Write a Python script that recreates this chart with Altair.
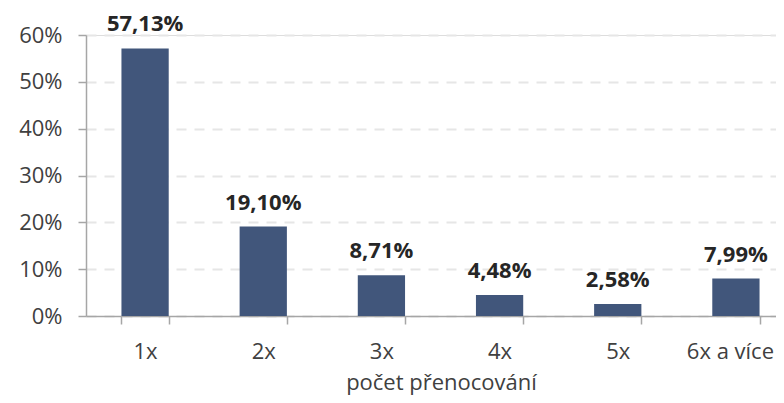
import altair as alt
import pandas as pd

categories = ["1x", "2x", "3x", "4x", "5x", "6x a více"]
values = [57.13, 19.10, 8.71, 4.48, 2.58, 7.99]
labels = ["57,13%", "19,10%", "8,71%", "4,48%", "2,58%", "7,99%"]

df = pd.DataFrame({
    "cat": categories,
    "val": [v / 100 for v in values],
    "lab": labels,
})

FONT = "Open Sans"
FS = 22

x = alt.X(
    "cat:N",
    sort=categories,
    title="počet přenocování",
    scale=alt.Scale(paddingInner=0.6, paddingOuter=0.3, range=[0, 709]),
    axis=alt.Axis(
        labelAngle=0,
        labelFontSize=FS,
        labelColor="#404040",
        labelFont=FONT,
        labelPadding=17,
        labelOffset=alt.expr("datum.value == '6x a více' ? -6 : 0"),
        titleFontSize=FS,
        titleColor="#404040",
        titleFont=FONT,
        titleFontWeight="normal",
        titleBaseline="alphabetic",
        titleX=355,
        titleY=73,
        domainColor="#A6A6A6",
        domainWidth=1.5,
        tickColor="#A6A6A6",
        tickWidth=1.5,
        tickSize=8,
        tickBand="extent",
        grid=False,
    ),
)

y = alt.Y(
    "val:Q",
    title=None,
    scale=alt.Scale(domain=[0, 0.6], nice=False),
    axis=alt.Axis(
        values=[0, 0.1, 0.2, 0.3, 0.4, 0.5, 0.6],
        format=".0%",
        labelFontSize=FS,
        labelColor="#404040",
        labelFont=FONT,
        labelPadding=16,
        domainColor="#A6A6A6",
        domainWidth=1.5,
        tickColor="#A6A6A6",
        tickWidth=1.5,
        tickSize=8,
        grid=True,
        gridColor="#E6E6E6",
        gridWidth=2,
        gridDash=[10, 8],
    ),
)

base = alt.Chart(df).encode(x=x, y=y)

bars = base.mark_bar(color="#41567B")
text = base.mark_text(
    baseline="alphabetic",
    dy=-17,
    fontSize=FS,
    fontWeight="bold",
    font=FONT,
    color="#262626",
).encode(text="lab:N")

chart = (
    (bars + text)
    .properties(
        width=690,
        height=281,
        autosize=alt.AutoSizeParams(type="none"),
        padding={"left": 78, "top": 27, "right": 0, "bottom": 79},
    )
    .configure_view(stroke=None)
    .configure(background="white")
)

chart.save("out.html", embed_options={"renderer": "svg", "actions": False})
